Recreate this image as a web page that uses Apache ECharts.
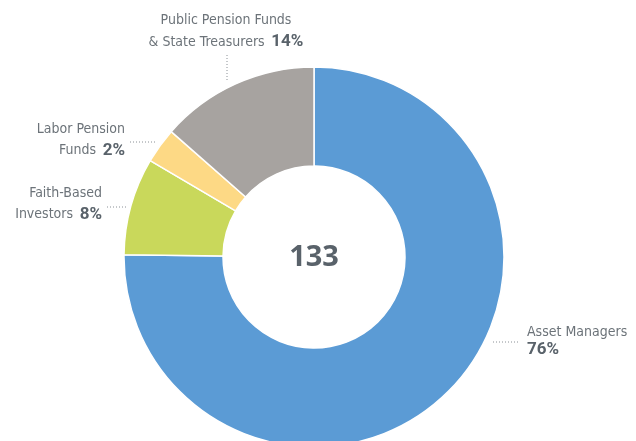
<!DOCTYPE html>
<html>
<head>
<meta charset="utf-8">
<script src="https://cdn.jsdelivr.net/npm/echarts@6/dist/echarts.min.js"></script>
<style>
  html, body { margin: 0; padding: 0; background: #fff; }
  #chart { width: 636px; height: 441px; }
</style>
</head>
<body>
<div id="chart"></div>
<script>
// Investor types — clockwise from 12 o'clock
const categories = ['Asset Managers', 'Faith-Based Investors', 'Labor Pension Funds', 'Public Pension Funds & State Treasurers']
const counts = [100, 11, 4, 18]            // slice sizes as drawn (total 133)
const shareLabels = ['76%', '8%', '2%', '14%']
const total = 133

const colors = ['#5b9bd5', '#c9d85b', '#fdd985', '#a7a3a0']
const FONT = "'Liberation Sans Narrow', 'Arial Narrow', 'DejaVu Sans Condensed', sans-serif"
const TEXT = '#6c7379'
const BOLD = '#59626a'

// label text lines (first line, second line prefix) + placement
const labelText = [
  ['Asset Managers', ''],
  ['Faith-Based', 'Investors'],
  ['Labor Pension', 'Funds'],
  ['Public Pension Funds', '& State Treasurers']
]
const labelPos = [
  { x: 527, y: 323, align: 'left', lh: 18 },
  { x: 102, y: 183, align: 'right', lh: 21 },
  { x: 125, y: 119, align: 'right', lh: 21 },
  { x: 226, y: 9, align: 'center', lh: 22 }
]
const leaders = [
  [[493, 342], [519, 342]],
  [[107, 207], [127, 207]],
  [[130, 142], [156, 142]],
  [[227, 55], [227, 80]]
]

const chart = echarts.init(document.getElementById('chart'), null, { renderer: 'canvas' })

const texts = categories.map((c, i) => {
  const [a, b] = labelText[i]
  const second = b ? '{n|' + b + '}  {p|' + shareLabels[i] + '}' : '{p|' + shareLabels[i] + '}'
  return {
    type: 'text',
    x: labelPos[i].x,
    y: labelPos[i].y,
    style: {
      text: '{n|' + a + '}\n' + second,
      align: labelPos[i].align,
      verticalAlign: 'top',
      fill: TEXT,
      rich: {
        n: { fontFamily: FONT, fontSize: 14, fill: TEXT, lineHeight: labelPos[i].lh },
        p: { fontFamily: 'Roboto, sans-serif', fontWeight: 'bold', fontSize: 17, fill: BOLD, lineHeight: labelPos[i].lh }
      }
    }
  }
})

const lines = leaders.map(pts => ({
  type: 'polyline',
  shape: { points: pts },
  style: { stroke: '#8a9096', lineWidth: 1, lineDash: [1, 2] },
  silent: true
}))

chart.setOption({
  backgroundColor: '#fff',
  animation: false,
  graphic: [
    ...texts,
    ...lines,
    {
      type: 'text',
      x: 314,
      y: 258,
      style: {
        text: String(total),
        align: 'center',
        verticalAlign: 'middle',
        fontFamily: "'Open Sans', sans-serif",
        fontWeight: 'bold',
        fontSize: 29,
        fill: BOLD
      }
    }
  ],
  series: [
    {
      type: 'pie',
      center: [314, 257],
      radius: [91, 190],
      startAngle: 90,
      clockwise: true,
      label: { show: false },
      labelLine: { show: false },
      itemStyle: { borderColor: '#fff', borderWidth: 1.5 },
      emphasis: { disabled: true },
      data: categories.map((c, i) => ({ name: c, value: counts[i], itemStyle: { color: colors[i] } }))
    }
  ]
})
</script>
</body>
</html>
